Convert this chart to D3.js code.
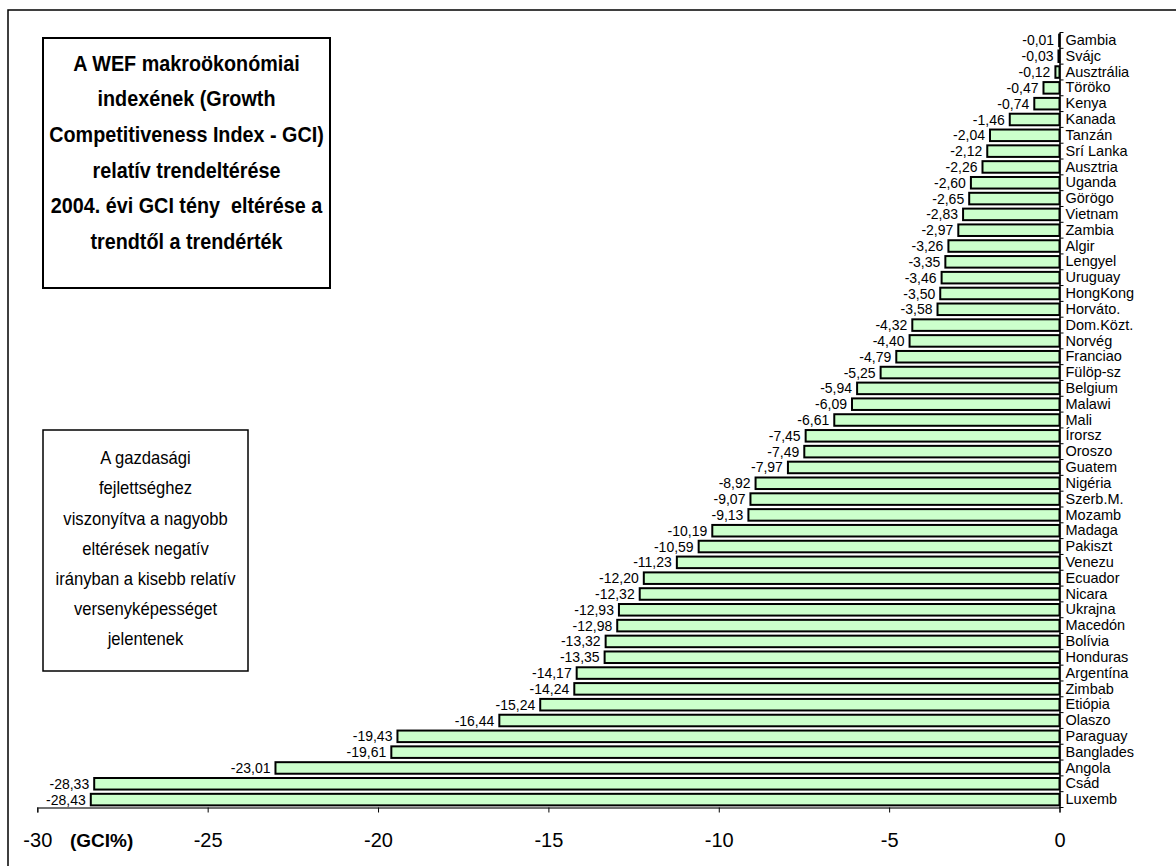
<!DOCTYPE html>
<html>
<head>
<meta charset="utf-8">
<script src="https://cdn.jsdelivr.net/npm/d3@7"></script>
<style>
  html, body { margin: 0; padding: 0; background: #fff; }
  svg { display: block; font-family: Arial, "Liberation Sans", sans-serif; }
</style>
</head>
<body>
<svg id="chart" width="1176" height="866"></svg>
<script>
const countries = ["Gambia","Svájc","Ausztrália","Töröko","Kenya","Kanada","Tanzán","Srí Lanka","Ausztria","Uganda","Görögo","Vietnam","Zambia","Algir","Lengyel","Uruguay","HongKong","Horváto.","Dom.Közt.","Norvég","Franciao","Fülöp-sz","Belgium","Malawi","Mali","Írorsz","Oroszo","Guatem","Nigéria","Szerb.M.","Mozamb","Madaga","Pakiszt","Venezu","Ecuador","Nicara","Ukrajna","Macedón","Bolívia","Honduras","Argentína","Zimbab","Etiópia","Olaszo","Paraguay","Banglades","Angola","Csád","Luxemb"];
const values = [-0.01,-0.03,-0.12,-0.47,-0.74,-1.46,-2.04,-2.12,-2.26,-2.60,-2.65,-2.83,-2.97,-3.26,-3.35,-3.46,-3.50,-3.58,-4.32,-4.40,-4.79,-5.25,-5.94,-6.09,-6.61,-7.45,-7.49,-7.97,-8.92,-9.07,-9.13,-10.19,-10.59,-11.23,-12.20,-12.32,-12.93,-12.98,-13.32,-13.35,-14.17,-14.24,-15.24,-16.44,-19.43,-19.61,-23.01,-28.33,-28.43];
const xTicks = [-30,-25,-20,-15,-10,-5,0];
const axisUnit = "(GCI%)";
const titleLines = ["A WEF makroökonómiai","indexének (Growth","Competitiveness Index - GCI)","relatív trendeltérése","2004. évi GCI tény  eltérése a","trendtől a trendérték"];
const noteLines = ["A gazdasági","fejlettséghez","viszonyítva a nagyobb","eltérések negatív","irányban a kisebb relatív","versenyképességet","jelentenek"];

const data = countries.map((c, i) => ({ country: c, value: values[i] }));
const svg = d3.select("#chart");

// outer frame
svg.append("rect").attr("x", 8).attr("y", 10).attr("width", 1250).attr("height", 950)
  .attr("fill", "none").attr("stroke", "#000").attr("stroke-width", 1.5);

const x = d3.scaleLinear().domain([-30, 0]).range([37.3, 1059.5]);
const y = d3.scaleBand().domain(countries).range([32.5, 807.5]).paddingInner(0.27).paddingOuter(0.135);
const step = y.step();

// bars
svg.append("g").selectAll("rect").data(data).join("rect")
  .attr("x", d => x(d.value))
  .attr("y", d => y(d.country))
  .attr("width", d => x(0) - x(d.value))
  .attr("height", y.bandwidth())
  .attr("fill", "#ccffcc")
  .attr("stroke", "#000")
  .attr("stroke-width", 2);

// value labels
svg.append("g").selectAll("text").data(data).join("text")
  .attr("x", d => x(d.value) - 5)
  .attr("y", d => y(d.country) + y.bandwidth() / 2)
  .attr("dy", "0.36em")
  .attr("text-anchor", "end")
  .attr("font-size", 14)
  .text(d => d.value.toFixed(2).replace(".", ","));

// bottom axis
const xAxis = d3.axisBottom(x).tickValues(xTicks).tickSize(5).tickPadding(20)
  .tickFormat(d => String(d));
const gx = svg.append("g").attr("transform", `translate(0,${807.5})`).call(xAxis);
gx.select(".domain").attr("stroke", "#444").attr("stroke-width", 1.5);
gx.selectAll(".tick line").attr("stroke", "#000");
gx.selectAll(".tick text").attr("font-size", 20).attr("font-family", "Arial, 'Liberation Sans', sans-serif").attr("fill", "#000");

svg.append("text").attr("x", 70).attr("y", 847).attr("font-size", 19).attr("font-weight", "bold").text(axisUnit);

// zero (category) axis
const yAxis = d3.axisRight(y).tickSize(0).tickPadding(6);
const gy = svg.append("g").attr("transform", `translate(${x(0)},0)`).call(yAxis);
gy.select(".domain").attr("stroke", "#000").attr("stroke-width", 1.5);
gy.selectAll(".tick text").attr("font-size", 14.5).attr("font-family", "Arial, 'Liberation Sans', sans-serif").attr("fill", "#000");
// boundary tick marks
const bounds = countries.map(c => y(c) - step * y.paddingInner() / 2).concat([y(countries[countries.length - 1]) + y.bandwidth() + step * y.paddingInner() / 2]);
gy.append("g").selectAll("line").data(bounds).join("line")
  .attr("x1", 0).attr("x2", 4).attr("y1", d => d).attr("y2", d => d)
  .attr("stroke", "#000").attr("stroke-width", 1);

// title box
svg.append("rect").attr("x", 43).attr("y", 38).attr("width", 287).attr("height", 250)
  .attr("fill", "#fff").attr("stroke", "#000").attr("stroke-width", 2);
svg.append("g").attr("transform", "translate(186.5,0) scale(0.92,1)")
  .selectAll("text").data(titleLines).join("text")
  .attr("x", 0).attr("y", (d, i) => 63 + i * 35.6).attr("dy", "0.36em")
  .attr("text-anchor", "middle").attr("font-size", 21.5).attr("font-weight", "bold")
  .style("white-space", "pre").text(d => d);

// note box
svg.append("rect").attr("x", 43).attr("y", 430).attr("width", 205).attr("height", 241)
  .attr("fill", "#fff").attr("stroke", "#000").attr("stroke-width", 1.5);
svg.append("g").attr("transform", "translate(145.5,0) scale(0.95,1)")
  .selectAll("text").data(noteLines).join("text")
  .attr("x", 0).attr("y", (d, i) => 458 + i * 30.2).attr("dy", "0.36em")
  .attr("text-anchor", "middle").attr("font-size", 17.5)
  .text(d => d);
</script>
</body>
</html>
